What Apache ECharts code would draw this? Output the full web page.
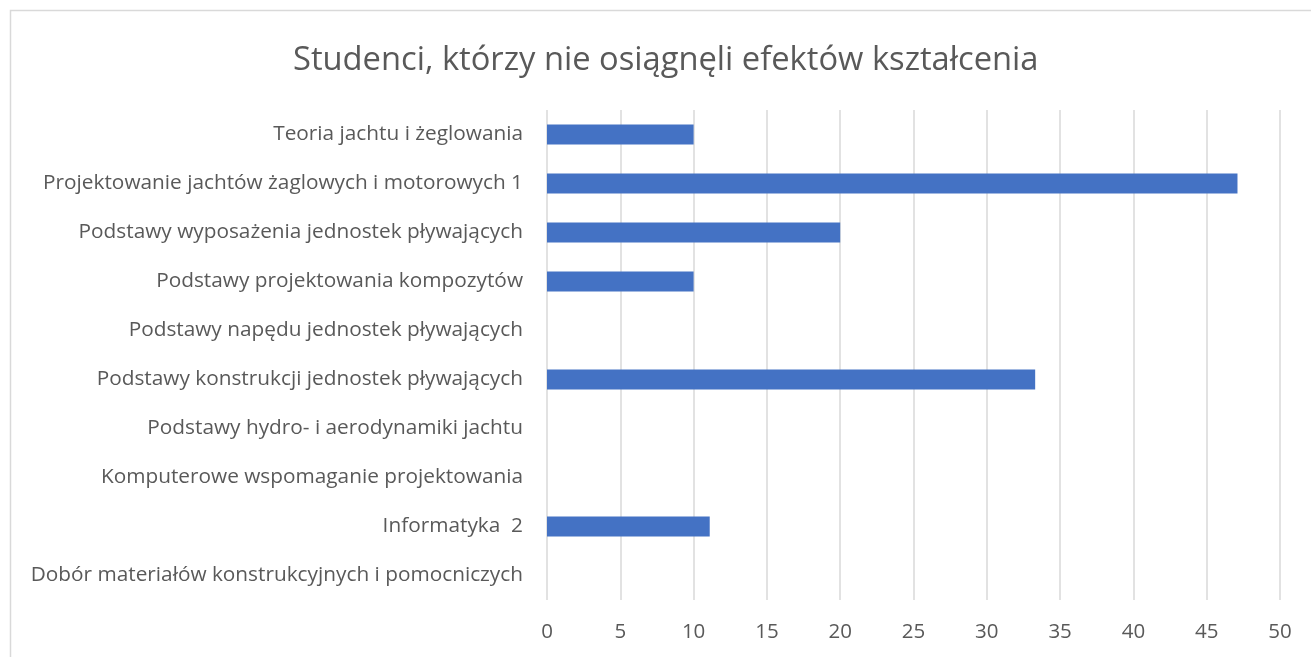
<!DOCTYPE html>
<html>
<head>
<meta charset="utf-8">
<script src="https://cdn.jsdelivr.net/npm/echarts@6/dist/echarts.min.js"></script>
<style>
  html, body { margin: 0; padding: 0; background: #fff; }
  #chart { width: 1311px; height: 657px; }
</style>
</head>
<body>
<div id="chart"></div>
<script>
const titleText = 'Studenci, którzy nie osiągnęli efektów kształcenia';

const courses = [
  'Teoria jachtu i żeglowania',
  'Projektowanie jachtów żaglowych i motorowych 1',
  'Podstawy wyposażenia jednostek pływających',
  'Podstawy projektowania kompozytów',
  'Podstawy napędu jednostek pływających',
  'Podstawy konstrukcji jednostek pływających',
  'Podstawy hydro- i aerodynamiki jachtu',
  'Komputerowe wspomaganie projektowania',
  'Informatyka  2',
  'Dobór materiałów konstrukcyjnych i pomocniczych'
];

const failedShare = [10, 47.1, 20, 10, 0, 33.3, 0, 0, 11.1, 0];

const axisMin = 0;
const axisMax = 50;
const axisStep = 5;

const FONT = '"Open Sans"';
const TEXT = '#595959';

const chart = echarts.init(document.getElementById('chart'), null, { renderer: 'canvas' });

chart.setOption({
  backgroundColor: '#ffffff',
  animation: false,
  graphic: [{
    type: 'rect',
    shape: { x: 10.5, y: 10.5, width: 1400, height: 1000 },
    style: { fill: 'none', stroke: '#d9d9d9', lineWidth: 1.5 },
    silent: true
  }],
  title: {
    text: titleText,
    left: 288,
    top: 39,
    textStyle: { fontFamily: FONT, fontSize: 32.7, fontWeight: 'normal', color: TEXT }
  },
  grid: { left: 547, right: 31, top: 110, bottom: 57, containLabel: false },
  xAxis: {
    type: 'value',
    min: axisMin,
    max: axisMax,
    interval: axisStep,
    axisLine: { show: false },
    axisTick: { show: false },
    axisLabel: { fontFamily: FONT, fontSize: 20.5, color: TEXT, margin: 22 },
    splitLine: { show: true, lineStyle: { color: '#d9d9d9', width: 1.5 } }
  },
  yAxis: {
    type: 'category',
    inverse: true,
    data: courses,
    axisLine: { show: false },
    axisTick: { show: false },
    axisLabel: { fontFamily: FONT, fontSize: 20.8, color: TEXT, margin: 24 }
  },
  series: [{
    type: 'bar',
    data: failedShare,
    barCategoryGap: '59%',
    itemStyle: { color: '#4472c4' }
  }]
});
</script>
</body>
</html>
